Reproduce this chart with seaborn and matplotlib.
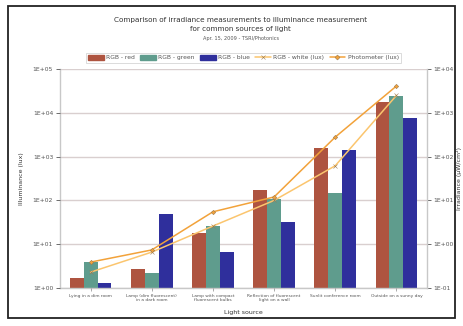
import matplotlib
matplotlib.use("Agg")
import matplotlib.pyplot as plt
import matplotlib.patches as mpatches
from matplotlib.lines import Line2D
from matplotlib.ticker import LogLocator, FuncFormatter, NullLocator
import numpy as np
import pandas as pd
import seaborn as sns

# ---- data ----
sources = [
    "Lying in a dim room",
    "Lamp (dim fluorescent)\nin a dark room",
    "Lamp with compact\nfluorescent bulbs",
    "Reflection of fluorescent\nlight on a wall",
    "Sunlit conference room",
    "Outside on a sunny day",
]
rgb_red = [0.17, 0.27, 1.8, 17, 160, 1800]        # µW/cm²
rgb_green = [0.40, 0.22, 2.6, 11, 15, 2400]       # µW/cm²
rgb_blue = [0.13, 4.9, 0.66, 3.2, 140, 760]       # µW/cm²
rgb_white_lux = [2.3, 6.6, 26, 100, 620, 25000]   # lux
photometer_lux = [3.9, 7.4, 55, 120, 2800, 41000] # lux

series_names = ["RGB - red", "RGB - green", "RGB - blue"]
bar_colors = ["#AE5440", "#5F9C8D", "#2F2F9C"]
line_names = ["RGB - white (lux)", "Photometer (lux)"]
line_colors = ["#FBC56E", "#F2A23A"]

bars = pd.DataFrame({
    "source": np.repeat(sources, 3),
    "series": series_names * len(sources),
    "value": [v for trio in zip(rgb_red, rgb_green, rgb_blue) for v in trio],
})

sns.set_theme(style="white")
plt.rcParams["font.family"] = ["DejaVu Sans"]

fig = plt.figure(figsize=(4.63, 3.26), dpi=100)
ax = fig.add_axes([0.1296, 0.1166, 0.7926, 0.6714])
ax2 = ax.twinx()

# bars (irradiance) on the right axis, drawn underneath
ax2.set_yscale("log")
sns.barplot(data=bars, x="source", y="value", hue="series", order=sources,
            hue_order=series_names, palette=bar_colors, width=0.68,
            saturation=1, dodge=True, ax=ax2, legend=False, linewidth=0)
ax2.set_ylim(0.1, 1e4)

# illuminance lines on the left axis, drawn on top
ax.set_yscale("log")
xs = np.arange(len(sources))
for vals, col, mk in zip([rgb_white_lux, photometer_lux], line_colors, ["x", "D"]):
    sns.lineplot(x=xs, y=vals, ax=ax, color=col, marker=mk, markersize=2.2,
                 linewidth=1.1, markeredgecolor="#9a7a50", markeredgewidth=0.4,
                 legend=False)
ax.set_ylim(1, 1e5)
ax.set_xlim(-0.5, len(sources) - 0.5)

ax.set_zorder(ax2.get_zorder() + 1)
ax.patch.set_visible(False)

def sci(v, pos):
    e = int(round(np.log10(v)))
    return f"1E{'+' if e >= 0 else '-'}{abs(e):02d}"

for a in (ax, ax2):
    a.yaxis.set_major_locator(LogLocator(base=10, numticks=10))
    a.yaxis.set_minor_locator(NullLocator())
    a.yaxis.set_major_formatter(FuncFormatter(sci))
    a.tick_params(axis="y", labelsize=4.3, colors="#555555", length=3, width=0.6,
                  direction="out", pad=2)
    for s in a.spines.values():
        s.set_visible(False)

ax2.yaxis.grid(True, color="#d9cfcf", linewidth=1.0)
ax2.set_axisbelow(True)
for side in ("left", "right", "bottom"):
    ax2.spines[side].set_visible(True)
    ax2.spines[side].set_color("#c8c8c8")
    ax2.spines[side].set_linewidth(1.0)
ax.yaxis.tick_left()
ax2.yaxis.tick_right()
ax.tick_params(axis="y", left=True, right=False)
ax2.tick_params(axis="y", left=False, right=True, pad=1.5)

ax2.set_xlabel("")
ax2.set_ylabel("Irradiance (µW/cm²)", fontsize=4.5, color="#333333",
               rotation=90, labelpad=2)
ax.set_ylabel("Illuminance (lux)", fontsize=4.5, color="#333333", labelpad=6)

# category labels along the bottom
ax.set_xticks(xs)
ax.set_xticklabels(sources, fontsize=3.2, color="#555555", linespacing=1.1)
ax.tick_params(axis="x", bottom=True, length=2, width=0.5, colors="#888888",
               labelcolor="#555555", pad=2, labelbottom=True)
ax2.tick_params(axis="x", bottom=False, labelbottom=False)
ax.set_xlabel("Light source", fontsize=4.5, color="#333333", labelpad=6)

# legend above the plot area
handles = [mpatches.Patch(color=c, label=n) for c, n in zip(bar_colors, series_names)]
handles += [Line2D([0], [0], color=c, lw=1.1, marker=m, markersize=2.5,
                   markeredgecolor="#9a7a50", markeredgewidth=0.4, label=n)
            for c, m, n in zip(line_colors, ["x", "D"], line_names)]
leg = ax.legend(handles=handles, loc="lower center", bbox_to_anchor=(0.5, 1.015),
                ncol=5, fontsize=4.3, frameon=True, fancybox=False,
                handlelength=2.6, handleheight=0.9, columnspacing=0.9,
                handletextpad=0.4, borderpad=0.4, edgecolor="#cccccc")
leg.get_frame().set_linewidth(0.6)
for t in leg.get_texts():
    t.set_color("#555555")

# titles
fig.text(0.52, 0.938, "Comparison of irradiance measurements to illuminance measurement",
         ha="center", va="center", fontsize=5.2, color="#333333")
fig.text(0.52, 0.910, "for common sources of light", ha="center", va="center",
         fontsize=5.2, color="#333333")
fig.text(0.52, 0.883, "Apr. 15, 2009 - TSRI/Photonics", ha="center", va="center",
         fontsize=3.6, color="#555555")

# outer frame
fig.patches.append(mpatches.Rectangle((8 / 463, 1 - 318 / 326), 447 / 463, 312 / 326,
                                      transform=fig.transFigure, fill=False,
                                      edgecolor="#222222", linewidth=1.3))

fig.savefig("out.png", dpi=100, facecolor="white")
